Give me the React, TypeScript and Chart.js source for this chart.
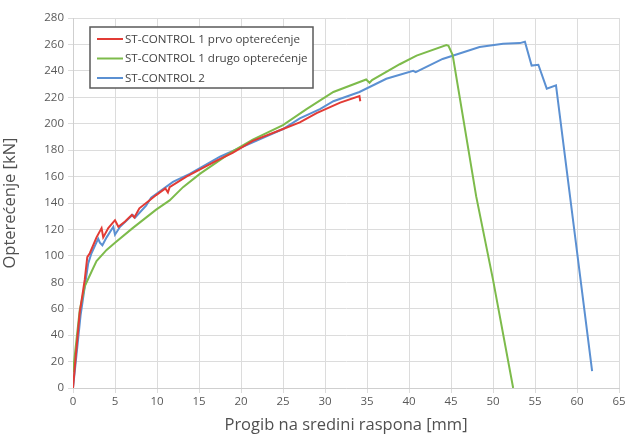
import React, { useEffect, useRef } from "react";
import { Chart, registerables } from "chart.js";

Chart.register(...registerables);

const seriesLabels = [
  "ST-CONTROL 1 prvo opterećenje",
  "ST-CONTROL 1 drugo opterećenje",
  "ST-CONTROL 2",
];

const redX = [0, 0.3, 0.8, 1.4, 1.7, 2.0, 2.8, 3.4, 3.6, 4.2, 5.0, 5.4, 6.2, 7.0, 7.3, 7.9, 8.9, 9.9, 11.0, 11.3, 11.5, 13.5, 17.1, 19.0, 21.4, 25.0, 27.0, 29.0, 31.8, 34.1, 34.2];
const redY = [0, 22, 57, 82, 99, 102, 114, 121, 114, 121, 127, 122, 126, 131, 129, 136, 141, 146, 151, 148, 152, 160, 172, 178, 187, 196, 201, 208, 216, 221, 217];

const greenX = [0, 0.2, 0.8, 1.4, 2.2, 2.8, 4.0, 5.0, 7.1, 9.9, 11.5, 13.1, 15.1, 19.0, 21.4, 25.0, 27.8, 31.0, 34.9, 35.3, 35.6, 38.9, 40.9, 44.45, 44.7, 45.2, 48.0, 50.0, 52.4];
const greenY = [12, 24, 59, 77, 88, 96, 104.5, 110, 121, 135, 142, 152, 162, 179, 188, 199, 211, 224, 233.5, 231, 233, 245, 251.5, 259.5, 259, 252, 145, 82, 0];

const blueX = [0, 0.3, 0.9, 1.8, 2.2, 3.0, 3.2, 3.5, 4.0, 4.8, 5.0, 5.6, 7.1, 7.4, 8.7, 9.3, 11.9, 13.9, 17.5, 21.4, 25.0, 27.0, 29.4, 31.0, 34.1, 37.3, 40.5, 40.8, 44.0, 48.4, 51.2, 53.2, 53.8, 54.6, 55.4, 56.4, 57.5, 61.8];
const blueY = [0, 18, 55, 94, 102, 113, 110, 108, 114, 122, 116, 122, 131, 129, 138, 144, 156, 162, 175, 186, 196, 204, 211, 217, 224, 234, 240, 239, 249, 258, 260.5, 261, 262, 244, 244.6, 226.5, 229, 12.7];

const seriesColors = ["#e23b35", "#7dbb4b", "#5b90d2"];

const xMin = 0, xMax = 65, xStep = 5;
const yMin = 0, yMax = 280, yStep = 20;

const toPoints = (xs: number[], ys: number[]) => xs.map((x, i) => ({ x, y: ys[i] }));

const FONT = "'Open Sans', 'DejaVu Sans', sans-serif";

const boxLegend = {
  id: "boxLegend",
  afterDraw(chart: any) {
    const { ctx, chartArea } = chart;
    const bx = chartArea.left + 17;
    const by = chartArea.top + 9;
    const bw = 223;
    const bh = 61;
    ctx.save();
    ctx.fillStyle = "#ffffff";
    ctx.fillRect(bx, by, bw, bh);
    ctx.strokeStyle = "#5a5a5a";
    ctx.lineWidth = 1.5;
    ctx.strokeRect(bx, by, bw, bh);
    ctx.font = `11.6px ${FONT}`;
    ctx.textBaseline = "middle";
    chart.data.datasets.forEach((ds: any, i: number) => {
      const y = by + 12 + i * 19.5;
      ctx.strokeStyle = ds.borderColor;
      ctx.lineWidth = 2;
      ctx.beginPath();
      ctx.moveTo(bx + 7, y);
      ctx.lineTo(bx + 33, y);
      ctx.stroke();
      ctx.fillStyle = "#444444";
      ctx.fillText(ds.label, bx + 35, y + 0.5);
    });
    ctx.restore();
  },
};

export default function App() {
  const ref = useRef<HTMLCanvasElement>(null);
  useEffect(() => {
    document.body.style.margin = "0";
    const datasets = [
      toPoints(redX, redY),
      toPoints(greenX, greenY),
      toPoints(blueX, blueY),
    ].map((data, i) => ({
      label: seriesLabels[i],
      data,
      borderColor: seriesColors[i],
      backgroundColor: seriesColors[i],
      borderWidth: 2,
      pointRadius: 0,
      showLine: true,
      tension: 0,
    }));
    const chart = new Chart(ref.current!, {
      type: "scatter",
      data: { datasets },
      options: {
        animation: false,
        responsive: false,
        layout: { padding: { top: 18, right: 10, left: 0, bottom: 0 } },
        plugins: { legend: { display: false }, tooltip: { enabled: false } },
        scales: {
          x: {
            type: "linear",
            min: xMin,
            max: xMax,
            ticks: { stepSize: xStep, color: "#595959", font: { family: FONT, size: 11.5 }, padding: 2 },
            grid: { color: "#dcdcdc", lineWidth: 1, tickLength: 5 },
            border: { color: "#cfcfcf" },
            title: {
              display: true,
              text: "Progib na sredini raspona [mm]",
              color: "#505050",
              font: { family: FONT, size: 16.5 },
              padding: { top: 2, bottom: 0 },
            },
            afterFit(scale: any) {
              scale.height = 47;
            },
          },
          y: {
            type: "linear",
            min: yMin,
            max: yMax,
            ticks: { stepSize: yStep, color: "#595959", font: { family: FONT, size: 11.5 }, padding: 4 },
            grid: { color: "#dcdcdc", lineWidth: 1, tickLength: 5 },
            border: { color: "#cfcfcf" },
            title: {
              display: true,
              text: "Opterećenje [kN]",
              color: "#505050",
              font: { family: FONT, size: 16.5 },
              padding: { top: 0, bottom: 4 },
            },
            afterFit(scale: any) {
              scale.width = 73;
            },
          },
        },
      },
      plugins: [boxLegend],
    });
    return () => chart.destroy();
  }, []);
  return (
    <div style={{ width: 629, height: 435 }}>
      <canvas ref={ref} width={629} height={435} style={{ display: "block" }} />
    </div>
  );
}
